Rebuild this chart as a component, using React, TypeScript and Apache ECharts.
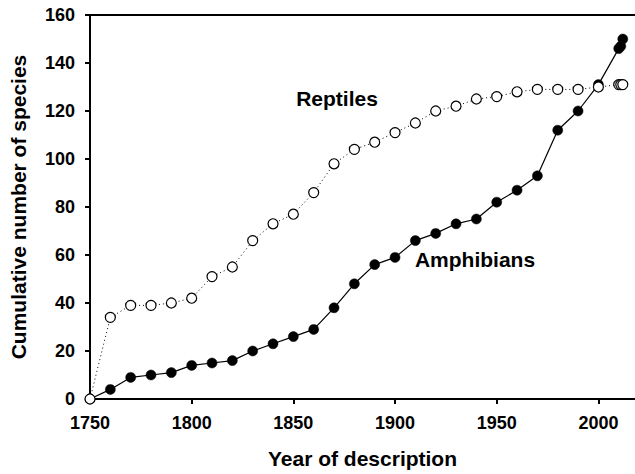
import React, { useEffect, useRef } from "react";
import * as echarts from "echarts";

const years = [1750, 1760, 1770, 1780, 1790, 1800, 1810, 1820, 1830, 1840, 1850, 1860, 1870, 1880, 1890, 1900, 1910, 1920, 1930, 1940, 1950, 1960, 1970, 1980, 1990, 2000, 2010, 2011, 2012];
const reptiles = [0, 34, 39, 39, 40, 42, 51, 55, 66, 73, 77, 86, 98, 104, 107, 111, 115, 120, 122, 125, 126, 128, 129, 129, 129, 130, 131, 131, 131];
const amphibians = [0, 4, 9, 10, 11, 14, 15, 16, 20, 23, 26, 29, 38, 48, 56, 59, 66, 69, 73, 75, 82, 87, 93, 112, 120, 131, 146, 147, 150];
const xTicks = [1750, 1800, 1850, 1900, 1950, 2000];
const yTicks = [0, 20, 40, 60, 80, 100, 120, 140, 160];

const FONT = "'Liberation Sans', Arial, sans-serif";

export default function App() {
  const ref = useRef<HTMLDivElement>(null);
  useEffect(() => {
    const chart = echarts.init(ref.current!, undefined, { renderer: "svg" });
    const axisLineStyle = { color: "#000", width: 2 };
    chart.setOption({
      animation: false,
      backgroundColor: "#fff",
      grid: { left: 88, top: 15, right: 0, bottom: 73, containLabel: false },
      xAxis: {
        type: "value",
        min: 1750,
        max: 2018,
        interval: 50,
        name: "Year of description",
        nameLocation: "middle",
        nameGap: 49,
        nameTextStyle: { fontFamily: FONT, fontWeight: "bold", fontSize: 21, color: "#000" },
        axisLine: { show: true, onZero: false, lineStyle: axisLineStyle },
        axisTick: { show: true, inside: false, length: 5, lineStyle: axisLineStyle },
        axisLabel: {
          margin: 15,
          fontFamily: FONT,
          fontWeight: "bold",
          fontSize: 18,
          color: "#000",
          showMaxLabel: false,
          formatter: (v: number) => (xTicks.includes(v) ? String(v) : ""),
        },
        splitLine: { show: false },
      },
      yAxis: {
        type: "value",
        min: 0,
        max: 160,
        interval: 20,
        name: "Cumulative number of species",
        nameLocation: "middle",
        nameGap: 61,
        nameTextStyle: { fontFamily: FONT, fontWeight: "bold", fontSize: 21, color: "#000" },
        axisLine: { show: true, lineStyle: axisLineStyle },
        axisTick: { show: true, inside: false, length: 5, lineStyle: axisLineStyle },
        axisLabel: {
          margin: 15,
          fontFamily: FONT,
          fontWeight: "bold",
          fontSize: 18,
          color: "#000",
          formatter: (v: number) => (yTicks.includes(v) ? String(v) : ""),
        },
        splitLine: { show: false },
      },
      series: [
        {
          name: "Amphibians",
          type: "line",
          data: years.map((y, i) => [y, amphibians[i]]),
          symbol: "circle",
          symbolSize: 10,
          clip: false,
          z: 2,
          lineStyle: { color: "#000", width: 1.2 },
          itemStyle: { color: "#000", borderColor: "#000", borderWidth: 0.5 },
        },
        {
          name: "Reptiles",
          type: "line",
          data: years.map((y, i) => [y, reptiles[i]]),
          symbol: "circle",
          symbolSize: 10,
          clip: false,
          z: 3,
          lineStyle: { color: "#000", width: 1, type: [1, 3] },
          itemStyle: { color: "#fff", borderColor: "#000", borderWidth: 1.2 },
        },
      ],
      graphic: [
        {
          type: "line",
          shape: { x1: 87, y1: 15, x2: 635, y2: 15 },
          style: { stroke: "#000", lineWidth: 2 },
          z: 10,
        },
        {
          type: "text",
          x: 337,
          y: 98.5,
          style: { text: "Reptiles", fontFamily: FONT, fontWeight: "bold", fontSize: 21, fill: "#000", align: "center", verticalAlign: "middle" },
        },
        {
          type: "text",
          x: 475,
          y: 259,
          style: { text: "Amphibians", fontFamily: FONT, fontWeight: "bold", fontSize: 21, fill: "#000", align: "center", verticalAlign: "middle" },
        },
      ],
    });
    return () => chart.dispose();
  }, []);
  return <div ref={ref} style={{ position: "absolute", left: 0, top: 0, width: 635, height: 474 }} />;
}
